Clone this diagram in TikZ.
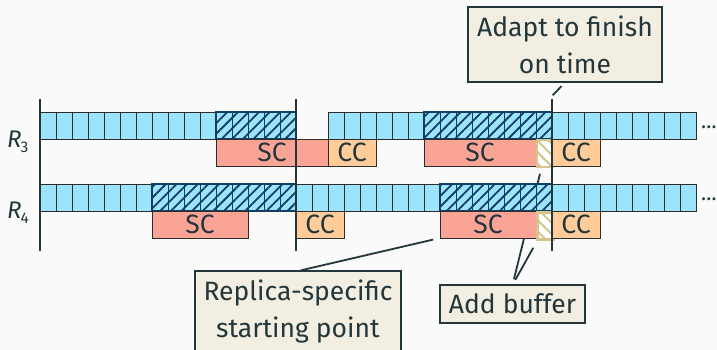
\documentclass[tikz,border=0pt]{standalone}
\usepackage{fontspec}
\setmainfont{Fira Sans}
\usetikzlibrary{patterns.meta,backgrounds}
\definecolor{bg}{HTML}{FAFAFA}
\definecolor{ink}{HTML}{23373B}
\definecolor{cellblue}{RGB}{155,228,251}
\definecolor{cellline}{RGB}{45,45,45}
\definecolor{hatchnavy}{RGB}{18,62,98}
\definecolor{scpink}{RGB}{250,164,150}
\definecolor{ccorange}{RGB}{255,204,154}
\definecolor{gold}{RGB}{214,196,138}
\definecolor{callbg}{RGB}{243,238,226}
\begin{document}
\begin{tikzpicture}[x=1pt,y=-1pt,
  cell/.style={draw=cellline,line width=0.9pt,fill=cellblue},
  hatchcell/.style={draw=hatchnavy,line width=0.9pt,preaction={fill=cellblue},
    pattern={Lines[angle=45,distance=7.5pt,line width=1.8pt]},pattern color=hatchnavy},
  hatchframe/.style={draw=hatchnavy,line width=2.5pt},
  task/.style={draw=cellline,line width=0.9pt,minimum height=27pt,inner sep=0pt,
    outer sep=0pt,font=\fontsize{26.5}{30}\selectfont,text=ink,anchor=north west},
  sc/.style={task,fill=scpink},
  cc/.style={task,fill=ccorange,minimum width=48pt},
  buf/.style={draw=gold,line width=2.8pt,minimum width=16pt,minimum height=27pt,
    inner sep=0pt,anchor=north west,preaction={fill=white},
    pattern={Lines[angle=-45,distance=8pt,line width=2pt]},pattern color=gold},
  axis/.style={draw=ink,line width=2pt},
  conn/.style={draw=ink,line width=1.8pt},
  callout/.style={draw=ink,line width=2pt,fill=callbg,text=ink,align=center,
    inner sep=9pt,outer sep=0pt,font=\fontsize{26.5}{36.5}\selectfont},
  rlabel/.style={text=ink,anchor=base west,inner sep=0pt,font=\fontsize{24}{26}\selectfont},
  more/.style={text=ink,anchor=base west,inner sep=0pt,font=\fontsize{21}{24}\selectfont}]

\begin{scope}[on background layer]
  \fill[bg] (0,0) rectangle (717,350);
\end{scope}
\useasboundingbox (0,0) rectangle (717,350);

% ---- row R3 ----
\foreach \i in {0,...,15,18,19,...,40}
  \draw[cell] ({40+16*\i},112) rectangle ++(16,27);
\foreach \i in {11,...,15,24,25,...,31}
  \draw[hatchcell] ({40+16*\i},112) rectangle ++(16,27);
\draw[hatchframe] (216,112) rectangle (296,139);
\draw[hatchframe] (424,112) rectangle (552,139);

% ---- row R4 ----
\foreach \i in {0,...,40}
  \draw[cell] ({40+16*\i},184) rectangle ++(16,27);
\foreach \i in {7,...,15,25,26,...,31}
  \draw[hatchcell] ({40+16*\i},184) rectangle ++(16,27);
\draw[hatchframe] (152,184) rectangle (296,211);
\draw[hatchframe] (440,184) rectangle (552,211);

% ---- tasks ----
\node[sc,minimum width=112pt] (sc3a) at (216,139) {SC};
\node[cc] (cc3a) at (328,139) {CC};
\node[sc,minimum width=112pt] (sc3b) at (424,139) {SC};
\node[buf] (buf3) at (536,139) {};
\node[cc] (cc3b) at (552,139) {CC};

\node[sc,minimum width=96pt] (sc4a) at (152,211) {SC};
\node[cc] (cc4a) at (296,211) {CC};
\node[sc,minimum width=96pt] (sc4b) at (440,211) {SC};
\node[buf] (buf4) at (536,211) {};
\node[cc] (cc4b) at (552,211) {CC};

% ---- labels ----
\node[rlabel] (r3) at (7,147) {\textit{R}\kern-1pt\raisebox{-5pt}{\fontsize{15.5}{16}\selectfont 3}};
\node[rlabel] (r4) at (7,218) {\textit{R}\kern-1pt\raisebox{-5pt}{\fontsize{15.5}{16}\selectfont 4}};
\node[more] (more3) at (701,128.5) {…};
\node[more] (more4) at (701,200.5) {…};

% ---- axes ----
\coordinate (a1t) at (40,99);  \coordinate (a1b) at (40,251);
\coordinate (a2t) at (296,99); \coordinate (a2b) at (296,251);
\coordinate (a3t) at (552,99); \coordinate (a3b) at (552,251);
\draw[axis] (a1t) -- (a1b);
\draw[axis] (a2t) -- (a2b);
\draw[axis] (a3t) -- (a3b);

% ---- callouts ----
\node[callout,anchor=north] (adapt) at (565,7) {Adapt to finish\\on time};
\node[callout,anchor=north] (rep) at (298,271) {Replica-specific\\starting point};
\node[callout,anchor=north] (add) at (512.5,285) {Add buffer};

\coordinate (atip) at (552,96);
\begin{scope}[on background layer]
  \draw[conn,shorten <=5pt,shorten >=1pt] (adapt.south) -- (atip);
  \draw[conn,shorten <=3pt,shorten >=7pt] (rep.north) -- (sc4b.south west);
  \draw[conn,shorten <=6pt,shorten >=6pt] (add.north) -- (buf3);
  \draw[conn,shorten <=6pt,shorten >=8pt] (add.north) -- (buf4);
\end{scope}
\end{tikzpicture}
\end{document}
